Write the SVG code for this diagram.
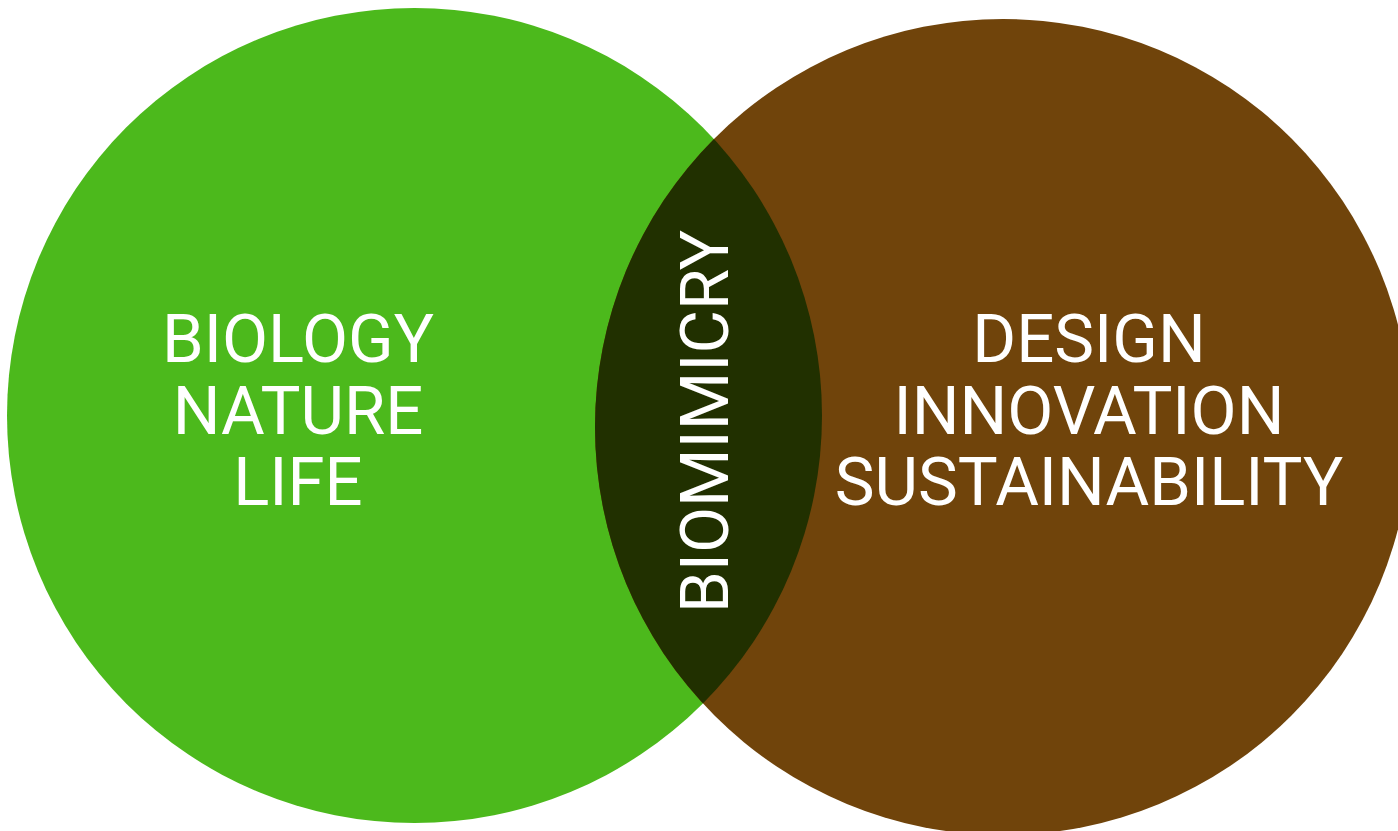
<svg xmlns="http://www.w3.org/2000/svg" width="1398" height="831" viewBox="0 0 1398 831">
  <defs>
    <clipPath id="clipGreen">
      <circle cx="414.5" cy="415.5" r="407.5"/>
    </clipPath>
    <style>
      .lbl { font-family: Roboto, "Liberation Sans", sans-serif; font-size: 67px; font-weight: 400; fill: #ffffff; text-anchor: middle; }
    </style>
  </defs>
  <rect x="0" y="0" width="1398" height="831" fill="#ffffff"/>
  <g id="biology">
    <circle cx="414.5" cy="415.5" r="407.5" fill="#4cb91c"/>
    <text class="lbl" x="298" y="362">BIOLOGY</text>
    <text class="lbl" x="298" y="434">NATURE</text>
    <text class="lbl" x="298" y="505">LIFE</text>
  </g>
  <g id="design">
    <circle cx="1003" cy="427" r="408" fill="#70440b"/>
    <text class="lbl" x="1089" y="362">DESIGN</text>
    <text class="lbl" x="1089" y="434">INNOVATION</text>
    <text class="lbl" x="1089" y="505">SUSTAINABILITY</text>
  </g>
  <g id="biomimicry">
    <circle cx="1003" cy="427" r="408" fill="#213000" clip-path="url(#clipGreen)"/>
    <text class="lbl" transform="translate(728,421.5) rotate(-90)" x="0" y="0">BIOMIMICRY</text>
  </g>
</svg>
